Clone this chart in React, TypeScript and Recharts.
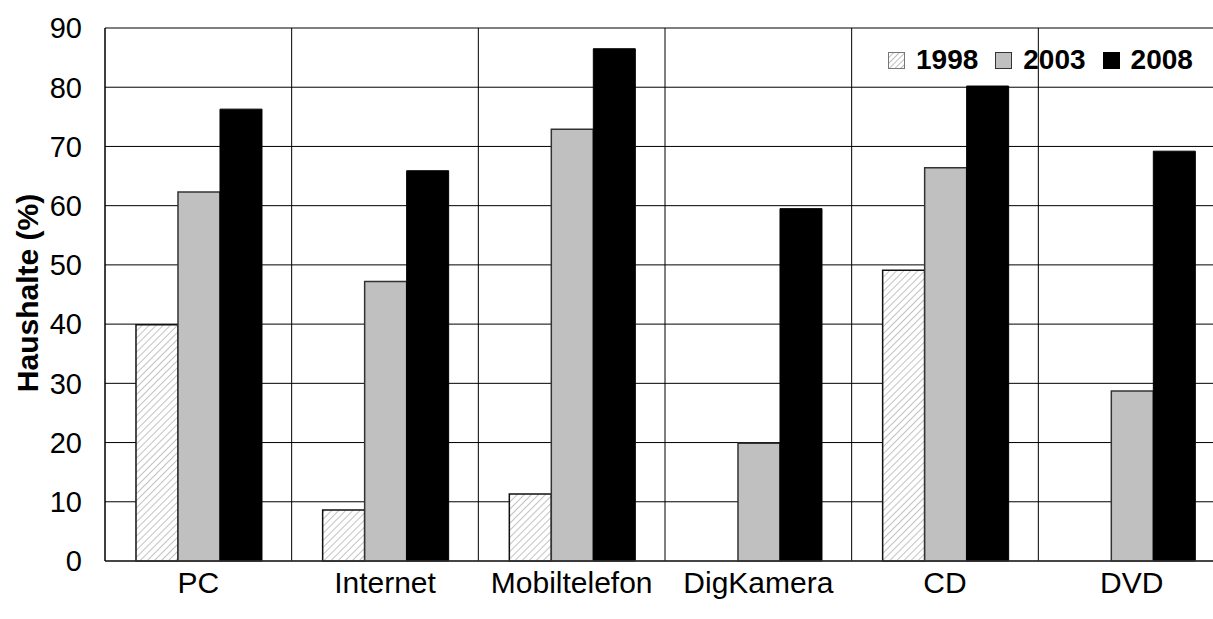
import { BarChart, Bar, XAxis, YAxis, CartesianGrid, Label } from "recharts";

const categories = ["PC", "Internet", "Mobiltelefon", "DigKamera", "CD", "DVD"];
const values1998 = [39.9, 8.6, 11.3, 0, 49.1, 0];
const values2003 = [62.3, 47.2, 72.9, 19.9, 66.4, 28.7];
const values2008 = [76.3, 65.9, 86.5, 59.5, 80.2, 69.2];
const yTicks = [0, 10, 20, 30, 40, 50, 60, 70, 80, 90];
const boundaryTicks = [0, 1, 2, 3, 4, 5, 6];

const data = categories.map((name, i) => ({
  name,
  idx: i + 0.5,
  y1998: values1998[i],
  y2003: values2003[i],
  y2008: values2008[i],
}));

const FONT = '"Liberation Sans", Arial, sans-serif';

const legendItems = [
  { label: "1998", fill: "url(#hatchLegend)", border: "#777" },
  { label: "2003", fill: "#c0c0c0", border: "#333" },
  { label: "2008", fill: "#000000", border: "#000" },
];

// legend drawn as plain html on top of the chart so it takes no room from the plot
const ChartLegend = () => (
  <div
    style={{
      position: "absolute",
      left: 888,
      top: 45,
      display: "flex",
      alignItems: "center",
      fontFamily: FONT,
      fontWeight: "bold",
      fontSize: 28,
      lineHeight: "30px",
      color: "#000",
    }}
  >
    {legendItems.map((it) => (
      <div key={it.label} style={{ display: "flex", alignItems: "center", marginRight: 17 }}>
        <svg width={17} height={17} style={{ marginRight: 11 }}>
          <defs>
            <pattern id="hatchLegend" width={4} height={4} patternUnits="userSpaceOnUse" patternTransform="rotate(45)">
              <rect width={4} height={4} fill="#fff" />
              <line x1={0} y1={0} x2={0} y2={4} stroke="#bdbdbd" strokeWidth={2} />
            </pattern>
          </defs>
          <rect x={0.5} y={0.5} width={16} height={16} fill={it.fill} stroke={it.border} strokeWidth={1} />
        </svg>
        <span>{it.label}</span>
      </div>
    ))}
  </div>
);

export default function App() {
  return (
    <div style={{ position: "fixed", left: 0, top: 0, width: 1213, height: 619, overflow: "hidden", background: "#fff" }}>
      <BarChart
        width={1240}
        height={619}
        data={data}
        margin={{ top: 28, right: 15, left: 0, bottom: 0 }}
        barCategoryGap="16.6%"
        barGap={0}
        style={{ fontFamily: FONT }}
      >
        <defs>
          <pattern id="hatch" width={5} height={5} patternUnits="userSpaceOnUse" patternTransform="rotate(45)">
            <rect width={5} height={5} fill="#fff" />
            <line x1={0} y1={0} x2={0} y2={5} stroke="#c2c2c2" strokeWidth={2} />
          </pattern>
        </defs>
        <XAxis
          xAxisId="grid"
          type="number"
          dataKey="idx"
          domain={[0, 6]}
          ticks={boundaryTicks}
          height={0}
          hide
        />
        <CartesianGrid xAxisId="grid" stroke="#000" strokeWidth={1} horizontal vertical />
        <XAxis
          dataKey="name"
          tickLine={false}
          tickSize={0}
          tickMargin={11}
          height={58}
          axisLine={{ stroke: "#333", strokeWidth: 1.5 }}
          tick={{ fill: "#000", fontSize: 30, fontFamily: FONT }}
          interval={0}
        />
        <YAxis
          width={105}
          domain={[0, 90]}
          ticks={yTicks}
          tickLine={false}
          tickSize={0}
          tickMargin={23}
          axisLine={{ stroke: "#000", strokeWidth: 1 }}
          tick={{ fill: "#000", fontSize: 29, fontFamily: FONT }}
        >
          <Label
            content={() => (
              <text
                x={0}
                y={0}
                transform="translate(38, 293) rotate(-90)"
                textAnchor="middle"
                fontFamily={FONT}
                fontWeight="bold"
                fontSize={30}
                fill="#000"
              >
                Haushalte (%)
              </text>
            )}
          />
        </YAxis>
        <Bar dataKey="y1998" name="1998" fill="url(#hatch)" stroke="#111" strokeWidth={1.5} isAnimationActive={false} />
        <Bar dataKey="y2003" name="2003" fill="#c0c0c0" stroke="#333" strokeWidth={1.5} isAnimationActive={false} />
        <Bar dataKey="y2008" name="2008" fill="#000" stroke="#000" strokeWidth={1} isAnimationActive={false} />
      </BarChart>
      <ChartLegend />
    </div>
  );
}
